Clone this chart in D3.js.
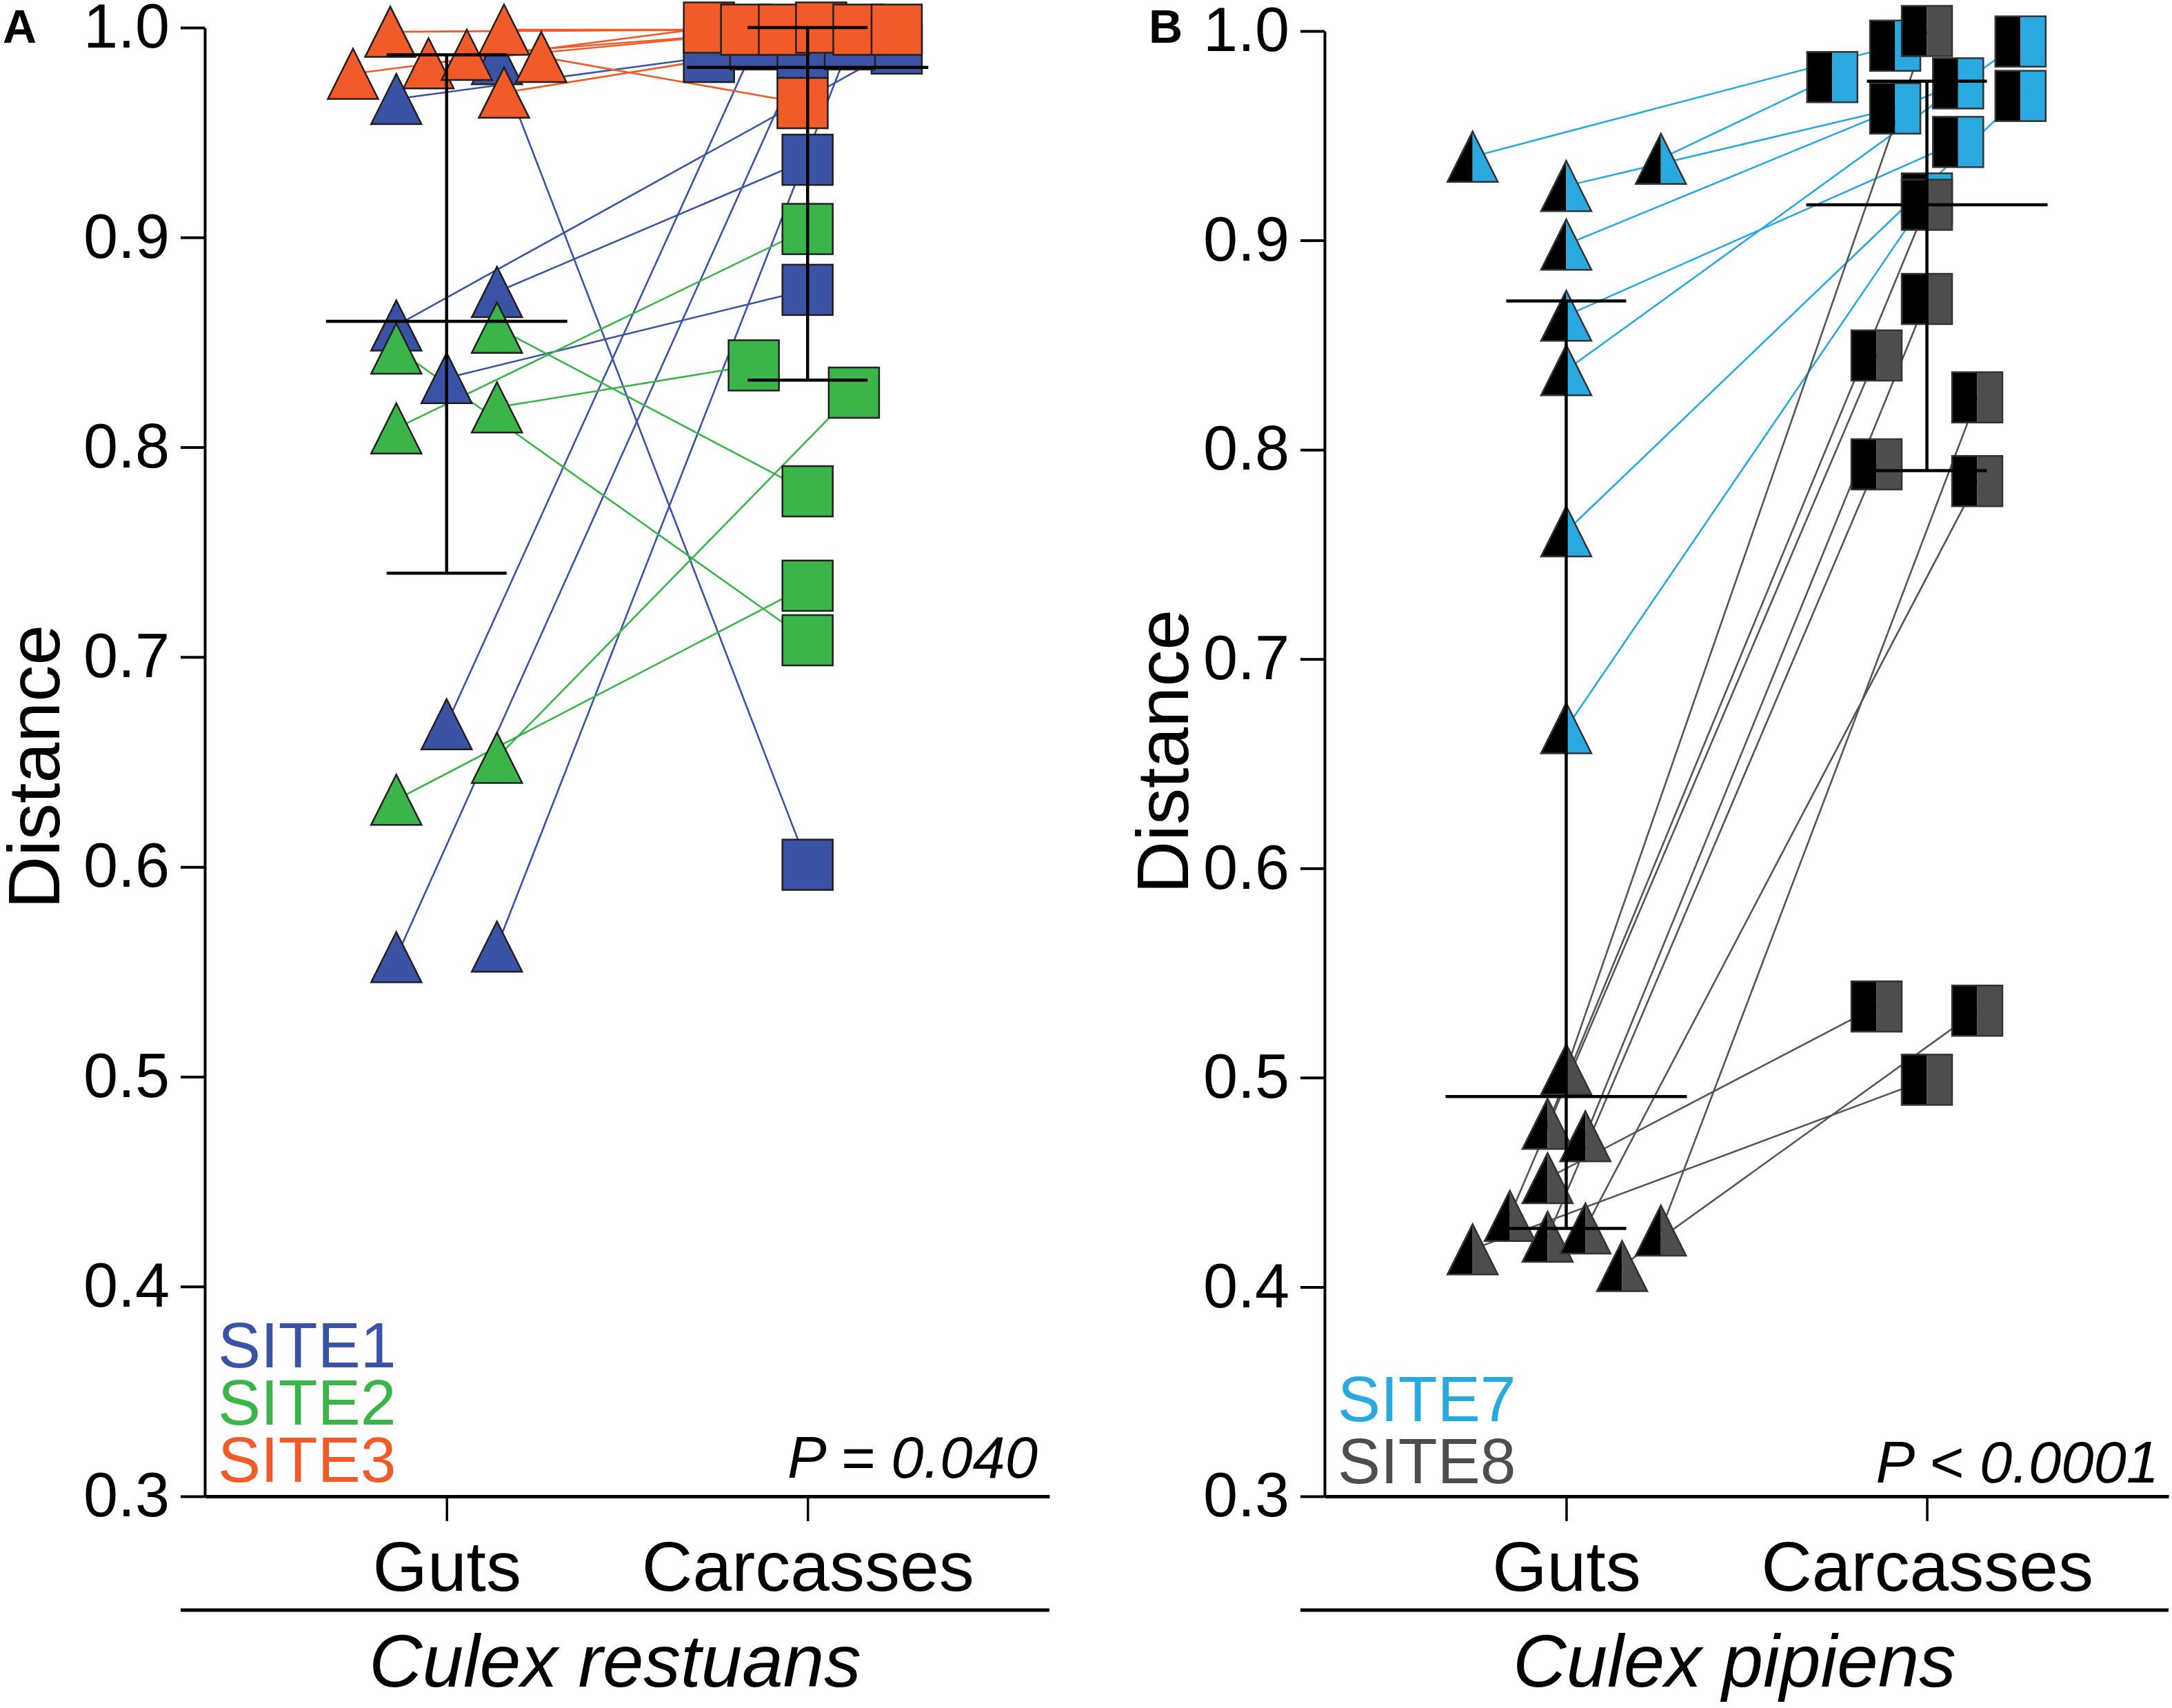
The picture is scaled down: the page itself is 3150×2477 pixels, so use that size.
<!DOCTYPE html>
<html>
<head>
<meta charset="utf-8">
<script src="https://cdn.jsdelivr.net/npm/d3@7"></script>
<style>
  body { margin: 0; background: #fff; }
  svg { display: block; }
</style>
</head>
<body>
<svg id="chart" width="3150" height="2477"></svg>
<script>
var FONT = "'Liberation Sans', Arial, Helvetica, sans-serif";

// categories and ticks
var categories = ["Guts", "Carcasses"];
var yTicks = [0.3, 0.4, 0.5, 0.6, 0.7, 0.8, 0.9, 1.0];

// ---- Culex restuans (panel A) ----
// slot = column position of a marker inside its category (in marker widths)
var site1Guts     = [0.966, 0.985, 0.858, 0.874, 0.833, 0.668, 0.557, 0.562];
var site1GutsSlot = [-1, 1, -1, 1, 0, 0, -1, 1];
var site1Carc     = [0.986, 0.601, 0.990, 0.937, 0.875, 0.992, 0.988, 0.992];
var site1CarcSlot = [-1.96, 0, 1.77, 0, 0, -1.04, -0.1, 0.84];

var site2Guts     = [0.809, 0.819, 0.847, 0.857, 0.632, 0.652];
var site2GutsSlot = [-1, 1, -1, 1, -1, 1];
var site2Carc     = [0.904, 0.839, 0.708, 0.779, 0.734, 0.826];
var site2CarcSlot = [0, -1.07, 0, 0, 0, 0.92];

var site3Guts     = [0.978, 0.998, 0.983, 0.987, 0.999, 0.986, 0.969];
var site3GutsSlot = [-1.86, -1.12, -0.36, 0.40, 1.14, 1.88, 1.14];
var site3Carc     = [1.0, 0.999, 0.999, 1.0, 0.999, 0.964, 0.999];
var site3CarcSlot = [-1.96, -1.22, -0.47, 0.27, 1.01, -0.1, 1.77];

var restuansMean = [0.860, 0.981];
var restuansLow  = [0.740, 0.832];
var restuansHigh = [0.987, 1.0];

// ---- Culex pipiens (panel B) ----
var site7Guts     = [0.940, 0.939, 0.926, 0.898, 0.864, 0.838, 0.761, 0.667];
var site7GutsSlot = [-1.86, 1.88, 0, 0, 0, 0, 0, 0];
var site7Carc     = [0.993, 0.978, 0.963, 0.975, 0.947, 0.995, 0.969, 0.920];
var site7CarcSlot = [-0.63, -1.88, -0.63, 0.62, 0.62, 1.86, 1.86, 0];

var site8Guts     = [0.504, 0.478, 0.472, 0.452, 0.434, 0.418, 0.424, 0.428, 0.410, 0.427];
var site8GutsSlot = [0, -0.37, 0.38, -0.37, -1.12, -1.86, -0.37, 0.38, 1.11, 1.88];
var site8Carc     = [1.0, 0.917, 0.872, 0.534, 0.845, 0.499, 0.793, 0.785, 0.532, 0.825];
var site8CarcSlot = [0, 0, 0, -1, -1, 0, -1, 1, 1, 1];

var pipiensMean = [0.491, 0.917];
var pipiensLow  = [0.428, 0.790];
var pipiensHigh = [0.871, 0.976];

var svg = d3.select("#chart");
var M = 73;   // marker size
var slotScale = d3.scaleLinear().domain([-1, 1]).range([-M, M]);

var tri = "M0," + (-M / 2) + "L" + (M / 2) + "," + (M / 2) + "L" + (-M / 2) + "," + (M / 2) + "Z";
var triLeft = "M0," + (-M / 2) + "L0," + (M / 2) + "L" + (-M / 2) + "," + (M / 2) + "Z";
var triRight = "M0," + (-M / 2) + "L" + (M / 2) + "," + (M / 2) + "L0," + (M / 2) + "Z";

var drawPanel = function(p) {
  var g = svg.append("g").attr("transform", "translate(" + p.left + ",0)");

  var y = d3.scaleLinear().domain([0.3, 1.0]).range([p.y0, p.y1]);
  var x = d3.scalePoint().domain(categories).range([0, p.width]).padding(0.67);

  var gx = function(s, i) { return x("Guts") + slotScale(s.gutsSlot[i]); };
  var cx = function(s, i) { return x("Carcasses") + slotScale(s.carcSlot[i]); };

  // connecting lines (behind everything)
  p.series.forEach(function(s) {
    g.append("g").selectAll("line")
      .data(s.guts)
      .join("line")
      .attr("x1", function(d, i) { return gx(s, i); })
      .attr("y1", function(d) { return y(d); })
      .attr("x2", function(d, i) { return cx(s, i); })
      .attr("y2", function(d, i) { return y(s.carc[i]); })
      .attr("stroke", s.line)
      .attr("stroke-width", 2.6);
  });

  // markers
  p.series.forEach(function(s) {
    var tg = g.append("g").selectAll("g")
      .data(s.guts)
      .join("g")
      .attr("transform", function(d, i) { return "translate(" + gx(s, i) + "," + y(d) + ")"; });
    var sg = g.append("g").selectAll("g")
      .data(s.carc)
      .join("g")
      .attr("transform", function(d, i) { return "translate(" + cx(s, i) + "," + y(d) + ")"; });

    if (p.split) {
      tg.append("path").attr("d", triLeft).attr("fill", "#000");
      tg.append("path").attr("d", triRight).attr("fill", s.color);
      sg.append("rect").attr("x", -M / 2).attr("y", -M / 2).attr("width", M / 2).attr("height", M).attr("fill", "#000");
      sg.append("rect").attr("x", 0).attr("y", -M / 2).attr("width", M / 2).attr("height", M).attr("fill", s.color);
      tg.append("path").attr("d", tri).attr("fill", "none").attr("stroke", "#333").attr("stroke-width", 2.5);
      sg.append("rect").attr("x", -M / 2).attr("y", -M / 2).attr("width", M).attr("height", M)
        .attr("fill", "none").attr("stroke", "#333").attr("stroke-width", 2.5);
    } else {
      tg.append("path").attr("d", tri).attr("fill", s.color).attr("stroke", "#231f20").attr("stroke-width", 2.5);
      sg.append("rect").attr("x", -M / 2).attr("y", -M / 2).attr("width", M).attr("height", M)
        .attr("fill", s.color).attr("stroke", "#231f20").attr("stroke-width", 2.5);
    }
  });

  // mean and error bars
  categories.forEach(function(c, i) {
    var bx = x(c);
    var eb = g.append("g").attr("stroke", "#000").attr("stroke-width", 4.5);
    eb.append("line").attr("x1", bx).attr("x2", bx).attr("y1", y(p.low[i])).attr("y2", y(p.high[i]));
    eb.append("line").attr("x1", bx - 175).attr("x2", bx + 175).attr("y1", y(p.mean[i])).attr("y2", y(p.mean[i]));
    eb.append("line").attr("x1", bx - 87).attr("x2", bx + 87).attr("y1", y(p.low[i])).attr("y2", y(p.low[i]));
    eb.append("line").attr("x1", bx - 87).attr("x2", bx + 87).attr("y1", y(p.high[i])).attr("y2", y(p.high[i]));
  });

  // y axis
  g.append("g")
    .call(d3.axisLeft(y).tickValues(yTicks).tickFormat(d3.format(".1f"))
      .tickSize(35).tickSizeOuter(0).tickPadding(16))
    .attr("font-family", FONT).attr("font-size", 90)
    .call(function(a) {
      a.select(".domain").attr("stroke-width", 4);
      a.selectAll(".tick line").attr("stroke-width", 4);
      a.selectAll(".tick text").attr("fill", "#000");
    });

  // x axis
  g.append("g")
    .attr("transform", "translate(0," + p.y0 + ")")
    .call(d3.axisBottom(x).tickSize(36).tickSizeOuter(0))
    .attr("font-family", FONT).attr("font-size", 102)
    .call(function(a) {
      a.select(".domain").attr("stroke-width", 5);
      a.selectAll(".tick line").attr("stroke-width", 3.5);
      a.selectAll(".tick text").attr("fill", "#000").attr("y", 137).attr("dy", 0);
    });

  // y title
  g.append("text")
    .attr("transform", "translate(" + p.titleX + "," + p.titleY + ") rotate(-90)")
    .attr("text-anchor", "middle")
    .attr("font-family", FONT).attr("font-size", 106)
    .text("Distance");

  // species bar and name
  g.append("line")
    .attr("x1", -35).attr("x2", p.width)
    .attr("y1", 2335).attr("y2", 2335)
    .attr("stroke", "#000").attr("stroke-width", 5);
  g.append("text")
    .attr("x", (p.width - 35) / 2).attr("y", 2446)
    .attr("text-anchor", "middle")
    .attr("font-family", FONT).attr("font-size", 107).attr("font-style", "italic")
    .text(p.species);

  // legend
  p.series.forEach(function(s, i) {
    g.append("text")
      .attr("x", 19).attr("y", p.legendY[i])
      .attr("font-family", FONT).attr("font-size", 93)
      .attr("fill", s.color)
      .text(s.name);
  });

  // p value
  g.append("text")
    .attr("x", p.pX).attr("y", p.pY)
    .attr("text-anchor", "end")
    .attr("font-family", FONT).attr("font-size", 85).attr("font-style", "italic")
    .text(p.pText);

  // panel letter
  svg.append("text")
    .attr("x", p.letterX).attr("y", 62)
    .attr("font-family", FONT).attr("font-size", 68).attr("font-weight", "bold")
    .text(p.letter);
};

drawPanel({
  letter: "A", letterX: 4,
  left: 297, width: 1225, y0: 2170, y1: 40,
  split: false,
  series: [
    { name: "SITE1", color: "#3a53a4", line: "#3a53a4", guts: site1Guts, gutsSlot: site1GutsSlot, carc: site1Carc, carcSlot: site1CarcSlot },
    { name: "SITE2", color: "#3bb44a", line: "#3bb44a", guts: site2Guts, gutsSlot: site2GutsSlot, carc: site2Carc, carcSlot: site2CarcSlot },
    { name: "SITE3", color: "#f15a29", line: "#f15a29", guts: site3Guts, gutsSlot: site3GutsSlot, carc: site3Carc, carcSlot: site3CarcSlot }
  ],
  mean: restuansMean, low: restuansLow, high: restuansHigh,
  titleX: -211, titleY: 1112,
  species: "Culex restuans",
  legendY: [1983, 2066, 2149],
  pText: "P = 0.040", pX: 1208, pY: 2143
});

drawPanel({
  letter: "B", letterX: 1666,
  left: 1921, width: 1224, y0: 2170, y1: 45,
  split: true,
  series: [
    { name: "SITE7", color: "#29a9e0", line: "#29a9e0", guts: site7Guts, gutsSlot: site7GutsSlot, carc: site7Carc, carcSlot: site7CarcSlot },
    { name: "SITE8", color: "#4d4d4d", line: "#555555", guts: site8Guts, gutsSlot: site8GutsSlot, carc: site8Carc, carcSlot: site8CarcSlot }
  ],
  mean: pipiensMean, low: pipiensLow, high: pipiensHigh,
  titleX: -198, titleY: 1090,
  species: "Culex pipiens",
  legendY: [2061, 2151],
  pText: "P < 0.0001", pX: 1210, pY: 2150
});
</script>
</body>
</html>
